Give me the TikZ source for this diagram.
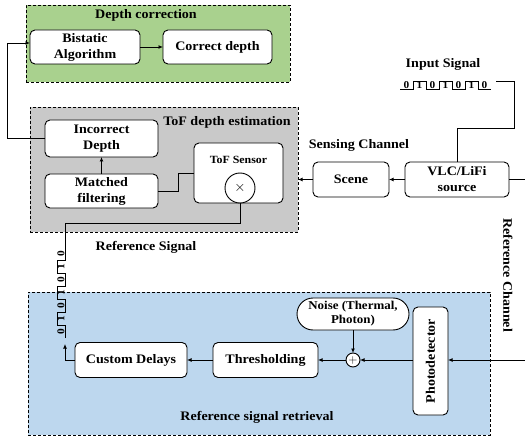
\documentclass[tikz,border=0pt]{standalone}
\usepackage{fontspec}
\setmainfont{Liberation Serif}[FakeStretch=1.08]
\usetikzlibrary{arrows.meta}
\definecolor{greenbg}{HTML}{A9D18E}
\definecolor{graybg}{HTML}{C9C9C9}
\definecolor{bluebg}{HTML}{BDD7EE}
\newcommand{\bitwave}{%
  \draw[line width=0.7pt] (0,0) -- (13,0) -- (13,-8) -- (26,-8) -- (26,0) -- (39,0) -- (39,-8) -- (52,-8) -- (52,0) -- (65,0) -- (65,-8) -- (78,-8) -- (78,0) -- (91,0);
  \foreach \i/\b in {0/0,1/1,2/0,3/1,4/0,5/1,6/0} \node[bit, transform shape] (b\i) at (6.5+13*\i,-4) {\b};
}
\begin{document}
\begin{tikzpicture}[x=1pt,y=-1pt,
  font=\fontsize{13}{16}\selectfont\bfseries,
  line width=0.9pt,
  >={Latex[length=4.5pt,width=4pt]},
  box/.style={draw, rounded corners=5pt, fill=white, align=center, inner sep=1pt, outer sep=0pt},
  group/.style={draw, dash pattern=on 3pt off 2pt, inner sep=0pt, outer sep=0pt},
  lbl/.style={inner sep=0pt, align=center},
  bit/.style={font=\fontsize{10.5}{10.5}\selectfont\bfseries, inner sep=0pt}]
\useasboundingbox (0,0) rectangle (525,441);
% groups
\node[group, fill=greenbg, minimum width=264pt, minimum height=77pt] (dcg) at (158,43.5) {};
\node[group, fill=graybg, minimum width=268pt, minimum height=125pt] (tofg) at (164,169.5) {};
\node[group, fill=bluebg, minimum width=462pt, minimum height=143pt] (rsg) at (259,363.5) {};
% titles
\node[lbl] (t1) at (146,15) {Depth correction};
\node[lbl] (t2) at (227,122) {ToF depth estimation};
\node[lbl] (t3) at (146,247) {Reference Signal};
\node[lbl] (t4) at (359,145) {Sensing Channel};
\node[lbl] (t5) at (443,64) {Input Signal};
\node[lbl] (t6) at (257,417) {Reference signal retrieval};
\node[lbl, rotate=-90] (t7) at (508,275) {Reference Channel};
% coordinates
\coordinate (fbx) at (7,43);
\coordinate (wtop) at (65,247);
\coordinate (wbot) at (65,344);
\coordinate (wend) at (496,81);
\coordinate (redge) at (525,179.5);
\coordinate (redge2) at (525,360);
% boxes
\node[box, minimum width=110pt, minimum height=34pt] (bis) at (85,47) {Bistatic\\Algorithm};
\node[box, minimum width=109pt, minimum height=34pt] (cor) at (217.5,47) {Correct depth};
\node[box, minimum width=113pt, minimum height=37pt] (inc) at (101.5,138.5) {Incorrect\\Depth};
\node[box, minimum width=113pt, minimum height=34pt] (mat) at (101.5,191) {Matched\\filtering};
\node[box, minimum width=89pt, minimum height=60pt] (tofs) at (238.5,173) {};
\node[lbl, font=\fontsize{11}{13}\selectfont\bfseries] (tofl) at (238.5,160) {ToF Sensor};
\node[draw, circle, fill=white, minimum size=30pt, inner sep=0pt, outer sep=0pt, font=\fontsize{14}{14}\selectfont] (mul) at (240,188) {$\times$};
\node[box, minimum width=76pt, minimum height=35pt] (scene) at (351,179.5) {Scene};
\node[box, minimum width=104pt, minimum height=35pt] (vlc) at (457,179.5) {VLC/LiFi\\source};
\node[box, minimum width=112pt, minimum height=35pt] (cd) at (131,360) {Custom Delays};
\node[box, minimum width=105pt, minimum height=35pt] (thr) at (265.5,360) {Thresholding};
\node[draw, circle, fill=white, minimum size=14pt, inner sep=0pt, outer sep=0pt, font=\fontsize{12}{12}\selectfont] (add) at (353,360) {$+$};
\node[box, rounded corners=16pt, minimum width=112pt, minimum height=32pt, font=\fontsize{12}{14}\selectfont\bfseries] (noise) at (353,314) {Noise (Thermal,\\Photon)};
\node[box, minimum width=35pt, minimum height=108pt] (pd) at (430.5,361) {};
\node[lbl, rotate=90] (pdl) at (430.5,361) {Photodetector};
% waveforms
\begin{scope}[shift={(400,89)}]
\bitwave
\end{scope}
\begin{scope}[shift={(65,338)}, rotate=90]
\bitwave
\end{scope}
% connectors
\draw[->] (bis) -- (cor);
\draw[->] (inc.west) -| (fbx) -- ([yshift=4pt]bis.west);
\draw[->] (mat) -- (inc);
\draw (mat.east) -- ++(20,0) |- (tofs.west);
\draw (mul.south) -- ++(0,20) -| (wtop);
\draw (wend) -- ++(18,0) -- ++(0,47) -| (vlc.north);
\draw[->] (vlc) -- (scene);
\draw[->] (scene) -- (scene.west -| tofg.east);
\draw (vlc.east) -- (redge);
\draw[->] (redge2) -- (pd.east |- redge2);
\draw[->] (pd.west |- add) -- (add);
\draw[->] (noise) -- (add);
\draw[->] (add) -- (thr);
\draw[->] (thr) -- (cd);
\draw[->] (cd.west) -| (wbot);
\end{tikzpicture}
\end{document}
